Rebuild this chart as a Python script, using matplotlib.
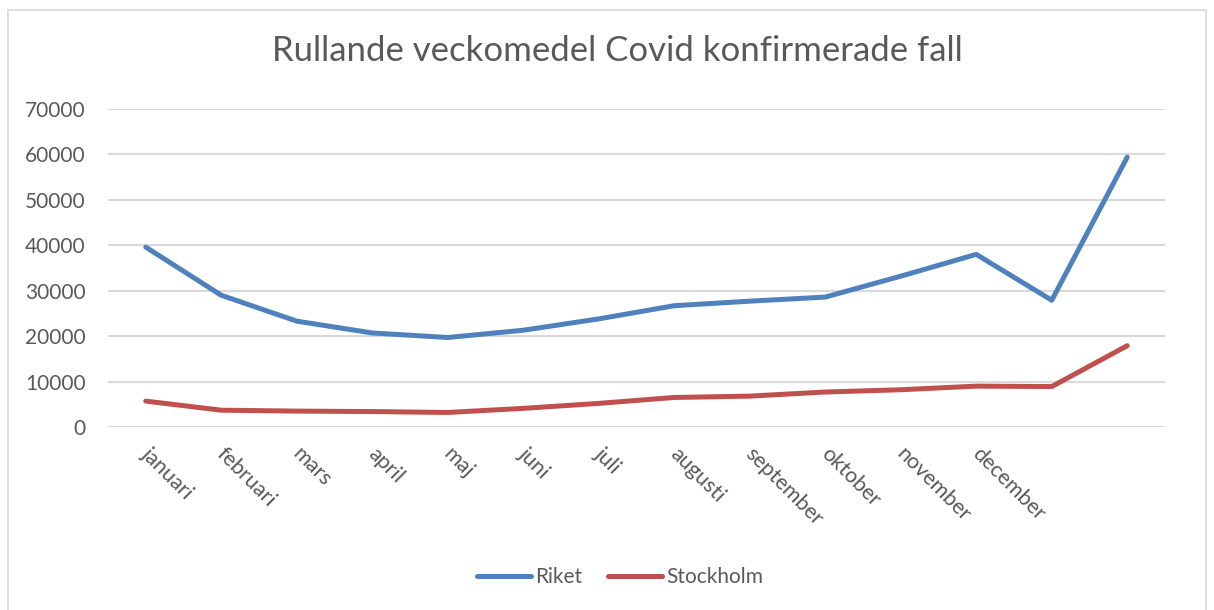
import matplotlib.pyplot as plt
from matplotlib.patches import Rectangle

# Data (rolling weekly mean, confirmed cases)
months = ["januari", "februari", "mars", "april", "maj", "juni", "juli",
          "augusti", "september", "oktober", "november", "december", "", ""]
riket = [39600, 29000, 23300, 20700, 19700, 21300, 23800,
         26700, 27700, 28600, 33200, 38000, 27900, 59400]
stockholm = [5700, 3700, 3500, 3400, 3200, 4100, 5200,
             6500, 6800, 7700, 8200, 9000, 8900, 17900]
yticks = [0, 10000, 20000, 30000, 40000, 50000, 60000, 70000]

BLUE = "#4F81BD"
RED = "#C0504D"
GRID = "#D9D9D9"
TEXT = "#595959"

plt.rcParams["font.family"] = ["Lato", "DejaVu Sans"]

fig = plt.figure(figsize=(12.14, 6.10), dpi=100)
ax = fig.add_axes([108 / 1214, 1 - 427 / 610, (1165 - 108) / 1214, (427 - 109) / 610])

x = list(range(len(months)))
ax.plot(x, riket, color=BLUE, lw=3.6, solid_capstyle="round",
        solid_joinstyle="round", label="Riket", zorder=3)
ax.plot(x, stockholm, color=RED, lw=3.6, solid_capstyle="round",
        solid_joinstyle="round", label="Stockholm", zorder=3)

ax.set_xlim(-0.5, len(months) - 0.5)
ax.set_ylim(0, 70000)
ax.set_yticks(yticks)
ax.set_yticklabels([str(v) for v in yticks], fontsize=15, color=TEXT)
# ticks are invisible; a small nudge puts the rotated labels where Excel had them
ax.set_xticks([i + 0.08 for i in x])
ax.set_xticklabels(months, rotation=-45, ha="left", va="top",
                   rotation_mode="anchor", fontsize=15.5, color=TEXT)
ax.tick_params(axis="both", length=0)
ax.tick_params(axis="y", pad=16)
ax.tick_params(axis="x", pad=12)
ax.grid(axis="y", color=GRID, lw=1.5)
ax.set_axisbelow(True)
for s in ax.spines.values():
    s.set_visible(False)

fig.text(617 / 1214, 1 - 51 / 610, "Rullande veckomedel Covid konfirmerade fall",
         ha="center", va="center", fontsize=25, color=TEXT)

leg = fig.legend(loc="center", bbox_to_anchor=(620 / 1214, 1 - 577 / 610),
                 ncol=2, frameon=False, fontsize=15, handlelength=2.6,
                 handletextpad=0.2, columnspacing=1.2)
for t in leg.get_texts():
    t.set_color(TEXT)

fig.patches.append(Rectangle((8 / 1214, -0.1), (1206 - 8) / 1214, 1.1 - 10 / 610,
                             transform=fig.transFigure, fill=False,
                             edgecolor=GRID, lw=1.2))

fig.savefig("out.png", dpi=100)
